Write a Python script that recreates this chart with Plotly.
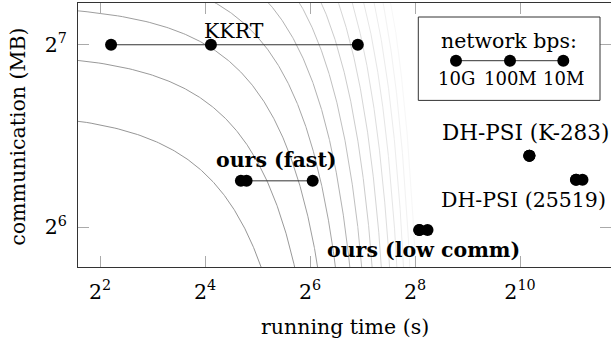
import numpy as np
import plotly.graph_objects as go

# ---------------- data ----------------
# each series: [10G, 100M, 10M] network bandwidth settings
series_names = ["KKRT", "ours (fast)", "ours (low comm)", "DH-PSI (K-283)", "DH-PSI (25519)"]
kkrt_time = [4.63, 17.3, 120.3]
kkrt_comm = [128.0, 128.0, 128.0]
fast_time = [25.7, 27.7, 66.3]
fast_comm = [76.3, 76.3, 76.3]
low_time = [270.6, 271.5, 302.0]
low_comm = [63.3, 63.3, 63.3]
k283_time = [1158.0, 1158.0, 1160.0]
k283_comm = [83.9, 83.9, 83.9]
x25519_time = [2142.0, 2150.0, 2336.0]
x25519_comm = [76.6, 76.6, 76.6]

# background iso-cost curves: time + comm_weight * comm = level
comm_weight = 0.75
cost_levels = [74.8, 93.5, 112.2, 130.9, 149.6, 168.3, 187.0, 205.7,
               224.4, 243.1, 261.8, 280.5, 299.2]
curve_grays = [150, 153, 158, 166, 178, 192, 204, 214, 222, 230, 236, 242, 247]

x_tick_exp = [2, 4, 6, 8, 10]
y_tick_exp = [6, 7]
legend_labels = ["10G", "100M", "10M"]

# ---------------- layout constants ----------------
W, H = 611, 343
L, R, T, B = 78, 611, 3.3, 267.3
FONT = "DejaVu Serif"
FS = 20.5
LOG2 = np.log10(2)
x_range = [1.581 * LOG2, 11.733 * LOG2]
y_range = [5.781 * LOG2, 7.229 * LOG2]


def px(xp):
    return (xp - L) / (R - L)


def py(yp):
    return (B - yp) / (B - T)


fig = go.Figure()

# iso-cost curves
c_vals = np.logspace(y_range[0] - 0.05, y_range[1] + 0.05, 400)
for lvl, g in zip(cost_levels, curve_grays):
    t_vals = lvl - comm_weight * c_vals
    m = t_vals > 0.5
    fig.add_trace(go.Scatter(x=t_vals[m], y=c_vals[m], mode="lines",
                             line=dict(color=f"rgb({g},{g},{g})", width=1),
                             hoverinfo="skip", showlegend=False))

# data series
for xs, ys in [(kkrt_time, kkrt_comm), (fast_time, fast_comm), (low_time, low_comm),
               (k283_time, k283_comm), (x25519_time, x25519_comm)]:
    fig.add_trace(go.Scatter(x=xs, y=ys, mode="lines+markers",
                             line=dict(color="#333333", width=1),
                             marker=dict(color="black", size=12),
                             showlegend=False))

ann = []


def txt(text, xp, yp, size=FS, xanchor="center", bold=False, angle=0):
    if bold:
        text = f"<b>{text}</b>"
    ann.append(dict(text=text, x=px(xp), y=py(yp), xref="paper", yref="paper",
                    xanchor=xanchor, yanchor="middle", showarrow=False,
                    textangle=angle,
                    font=dict(family=FONT, size=size, color="black")))


txt("KKRT", 234, 31)
txt("ours (fast)", 276, 160, bold=True)
txt("ours (low comm)", 423, 250, bold=True)
txt("DH-PSI (K-283)", 440, 133, xanchor="left", size=21.5)
txt("DH-PSI (25519)", 439, 200, xanchor="left")
txt("running time (s)", 345, 327)
txt("communication (MB)", 18, 137, angle=-90)

# legend box
shapes = [dict(type="rect", xref="paper", yref="paper",
               x0=px(418.3), x1=px(600), y0=py(17.3), y1=py(100.7),
               line=dict(color="#333333", width=1), fillcolor="white", layer="above")]
leg_x = [456, 510, 563.3]
leg_y = 61
shapes.append(dict(type="line", xref="paper", yref="paper",
                   x0=px(leg_x[0]), x1=px(leg_x[-1]), y0=py(leg_y), y1=py(leg_y),
                   line=dict(color="#333333", width=1), layer="above"))
r = 6
for xc in leg_x:
    shapes.append(dict(type="circle", xref="paper", yref="paper",
                       x0=px(xc - r), x1=px(xc + r), y0=py(leg_y + r), y1=py(leg_y - r),
                       fillcolor="black", line=dict(color="black", width=0), layer="above"))
txt("network bps:", 509, 41)
for xc, lab in zip(leg_x, legend_labels):
    txt(lab, xc, 79, size=18)

axis_common = dict(showgrid=False, zeroline=False, showline=True, linecolor="#333333",
                   linewidth=1, mirror="ticks", ticks="inside", ticklen=11,
                   tickcolor="#aaaaaa", tickwidth=1, automargin=False,
                   tickfont=dict(family=FONT, size=FS, color="black"))

fig.update_layout(
    width=W, height=H,
    margin=dict(l=L, r=W - R, t=T, b=H - B),
    paper_bgcolor="white", plot_bgcolor="white",
    xaxis=dict(type="log", range=x_range,
               tickvals=[2 ** e for e in x_tick_exp],
               ticktext=[f"2<sup>{e}</sup>" for e in x_tick_exp],
               ticklabelstandoff=6, **axis_common),
    yaxis=dict(type="log", range=y_range,
               tickvals=[2 ** e for e in y_tick_exp],
               ticktext=[f"2<sup>{e}</sup>" for e in y_tick_exp],
               ticklabelstandoff=6, **axis_common),
    annotations=ann, shapes=shapes,
)

fig.write_html("out.html", config={"displayModeBar": False},
               post_script="document.body.style.margin='0';document.body.style.overflow='hidden';")
